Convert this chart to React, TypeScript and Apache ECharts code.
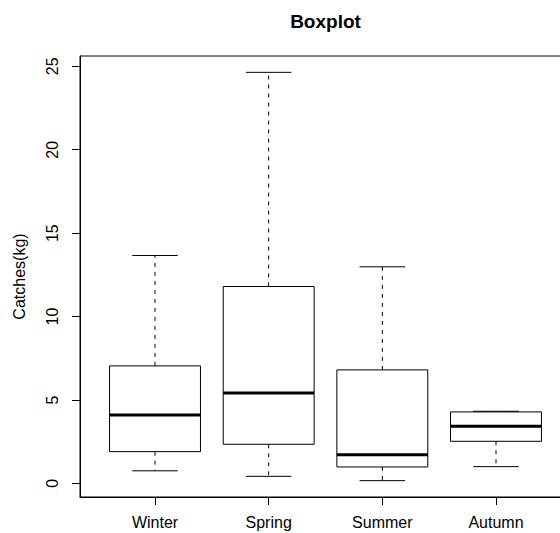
import React, { useEffect, useRef } from "react";
import * as echarts from "echarts";

const seasons = ["Winter", "Spring", "Summer", "Autumn"];
const minVals = [0.75, 0.42, 0.16, 1.0];
const q1Vals = [1.9, 2.34, 0.98, 2.52];
const medianVals = [4.1, 5.42, 1.72, 3.42];
const q3Vals = [7.04, 11.8, 6.8, 4.28];
const maxVals = [13.66, 24.64, 12.98, 4.32];
const yTicks = [0, 5, 10, 15, 20, 25];
const xTicks = [0, 1, 2, 3];

const FONT = "'Liberation Sans', Arial, Helvetica, sans-serif";

export default function App() {
  const ref = useRef<HTMLDivElement>(null);
  useEffect(() => {
    if (!ref.current) return;
    const chart = echarts.init(ref.current, undefined, { renderer: "svg" });
    const rows = seasons.map((_, i) => [i, minVals[i], q1Vals[i], medianVals[i], q3Vals[i], maxVals[i]]);
    const option: any = {
      animation: false,
      backgroundColor: "#ffffff",
      textStyle: { fontFamily: FONT },
      graphic: [
        {
          type: "text",
          x: 325.5,
          y: 21,
          style: {
            text: "Boxplot",
            fontFamily: FONT,
            fontSize: 19,
            fontWeight: "bold",
            fill: "#000",
            align: "center",
            verticalAlign: "middle",
          },
        },
      ],
      grid: {
        left: 80,
        top: 56,
        width: 491,
        height: 441,
        show: true,
        borderColor: "#000",
        borderWidth: 1,
        backgroundColor: "transparent",
        containLabel: false,
        outerBoundsMode: "none",
      },
      xAxis: {
        type: "value",
        min: -0.66,
        max: 3.66,
        axisLine: { show: true, onZero: false, lineStyle: { color: "#000", width: 1 } },
        axisTick: { show: true, length: 8, inside: false, customValues: xTicks, lineStyle: { color: "#000" } },
        axisLabel: {
          show: true,
          customValues: xTicks,
          formatter: (v: number) => seasons[Math.round(v)] ?? "",
          color: "#000",
          fontSize: 16,
          fontFamily: FONT,
          margin: 17,
        },
        splitLine: { show: false },
      },
      yAxis: {
        type: "value",
        min: -0.82,
        max: 25.62,
        name: "Catches(kg)",
        nameLocation: "middle",
        nameRotate: 90,
        nameGap: 53,
        nameTextStyle: { color: "#000", fontSize: 16, fontFamily: FONT },
        axisLine: { show: true, onZero: false, lineStyle: { color: "#000", width: 1 } },
        axisTick: { show: true, length: 8, inside: false, customValues: yTicks, lineStyle: { color: "#000" } },
        axisLabel: {
          show: true,
          customValues: yTicks,
          rotate: 90,
          color: "#000",
          fontSize: 16,
          fontFamily: FONT,
          margin: 20,
        },
        splitLine: { show: false },
      },
      series: [
        {
          type: "custom",
          data: rows,
          encode: { x: 0, y: [1, 2, 3, 4, 5] },
          clip: false,
          renderItem: (params: any, api: any) => {
            const x = api.value(0);
            const pMin = api.coord([x, api.value(1)]);
            const pQ1 = api.coord([x, api.value(2)]);
            const pMed = api.coord([x, api.value(3)]);
            const pQ3 = api.coord([x, api.value(4)]);
            const pMax = api.coord([x, api.value(5)]);
            const bw = api.size([0.8, 0])[0];
            const cw = bw / 2;
            const cx = pMed[0];
            const thin = { stroke: "#000", lineWidth: 1, fill: "none" };
            const dashed = { stroke: "#000", lineWidth: 1, lineDash: [4, 5], fill: "none" };
            return {
              type: "group",
              children: [
                { type: "line", shape: { x1: cx, y1: pQ3[1], x2: cx, y2: pMax[1] }, style: dashed },
                { type: "line", shape: { x1: cx, y1: pQ1[1], x2: cx, y2: pMin[1] }, style: dashed },
                { type: "line", shape: { x1: cx - cw / 2, y1: pMax[1], x2: cx + cw / 2, y2: pMax[1] }, style: thin },
                { type: "line", shape: { x1: cx - cw / 2, y1: pMin[1], x2: cx + cw / 2, y2: pMin[1] }, style: thin },
                {
                  type: "rect",
                  shape: { x: cx - bw / 2, y: pQ3[1], width: bw, height: pQ1[1] - pQ3[1] },
                  style: thin,
                },
                {
                  type: "line",
                  shape: { x1: cx - bw / 2, y1: pMed[1], x2: cx + bw / 2, y2: pMed[1] },
                  style: { stroke: "#000", lineWidth: 3 },
                },
              ],
            };
          },
        },
      ],
    };
    chart.setOption(option);
    return () => chart.dispose();
  }, []);
  return (
    <div
      ref={ref}
      style={{ position: "fixed", left: 0, top: 0, width: 560, height: 533 }}
    />
  );
}
